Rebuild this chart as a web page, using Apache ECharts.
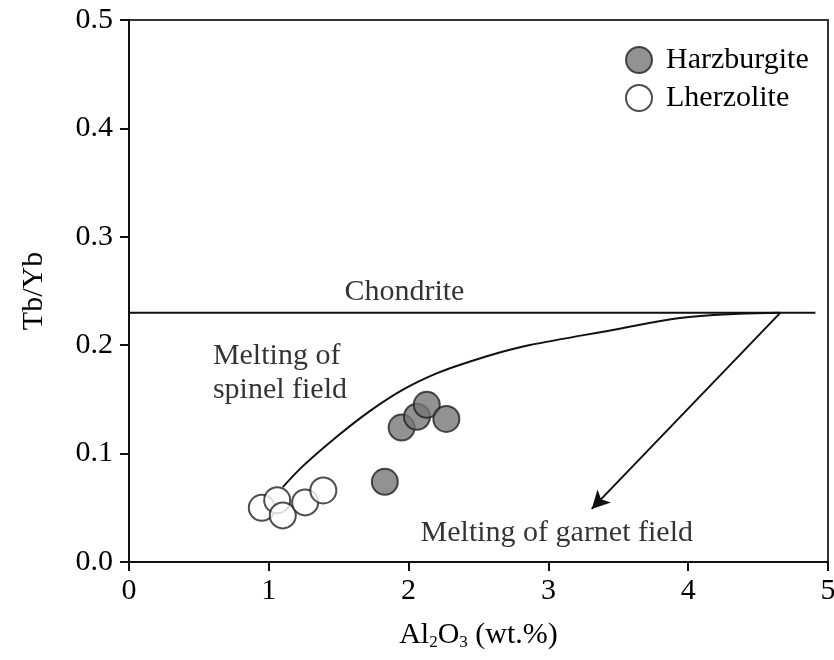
<!DOCTYPE html>
<html>
<head>
<meta charset="utf-8">
<script src="https://cdn.jsdelivr.net/npm/echarts@6/dist/echarts.min.js"></script>
<style>
html, body { margin: 0; padding: 0; background: #fff; }
#chart { width: 834px; height: 660px; }
</style>
</head>
<body>
<div id="chart"></div>
<script>
// sample points [Al2O3, Tb/Yb]
const harzburgite = [
    [1.95, 0.124],
    [2.06, 0.134],
    [2.13, 0.145],
    [2.27, 0.132],
    [1.83, 0.074],
];
const lherzolite = [
    [0.95, 0.050],
    [1.06, 0.057],
    [1.10, 0.043],
    [1.26, 0.055],
    [1.39, 0.066],
];
// reference lines
const chondriteLine = [[0, 0.23], [4.91, 0.23]];
const spinelCurve = [
    [1.10, 0.069],
    [1.24, 0.088],
    [1.49, 0.116],
    [1.72, 0.139],
    [1.96, 0.159],
    [2.20, 0.174],
    [2.44, 0.185],
    [2.67, 0.194],
    [2.86, 0.200],
    [3.46, 0.214],
    [3.94, 0.225],
    [4.36, 0.229],
    [4.66, 0.230],
];
const garnetArrow = [[4.66, 0.23], [3.31, 0.049]];
// annotations [x, y, text]
const notes = [
    [1.97, 0.249, 'Chondrite'],
    [3.06, 0.027, 'Melting of garnet field'],
];
const spinelNote = [0.6, 0.174, 'Melting of\nspinel field'];
const xTicks = [0, 1, 2, 3, 4, 5];
const yTicks = [0.0, 0.1, 0.2, 0.3, 0.4, 0.5];

const font = 'Liberation Serif';
const txt = '#000';

const option = {
    animation: false,
    textStyle: { fontFamily: font },
    grid: {
        left: 129,
        right: 6,
        top: 20,
        bottom: 98,
        outerBoundsMode: 'none',
        show: true,
        borderColor: '#333',
        borderWidth: 2,
    },
    legend: {
        orient: 'vertical',
        left: 620,
        top: 40,
        itemWidth: 26,
        itemHeight: 26,
        itemGap: 8,
        icon: 'circle',
        textStyle: { fontFamily: font, fontSize: 30, color: txt, padding: [0, 0, 0, 9] },
        data: ['Harzburgite', 'Lherzolite'],
    },
    xAxis: {
        type: 'value',
        min: xTicks[0],
        max: xTicks[xTicks.length - 1],
        interval: 1,
        name: 'Al{sub|2}O{sub|3} (wt.%)',
        nameLocation: 'middle',
        nameGap: 58,
        nameTextStyle: {
            fontFamily: font,
            fontSize: 30,
            color: txt,
            rich: {
                sub: { fontFamily: font, fontSize: 17, color: txt, padding: [14, 0, 0, 0] },
            },
        },
        axisLine: { lineStyle: { color: '#111', width: 2 } },
        axisTick: { show: true, length: 9, lineStyle: { color: '#111', width: 2 } },
        axisLabel: { fontFamily: font, fontSize: 30, color: txt, margin: 14, showMaxLabel: true },
        splitLine: { show: false },
    },
    yAxis: {
        type: 'value',
        min: yTicks[0],
        max: yTicks[yTicks.length - 1],
        interval: 0.1,
        name: 'Tb/Yb',
        nameLocation: 'middle',
        nameGap: 80,
        nameTextStyle: { fontFamily: font, fontSize: 30, color: txt },
        axisLine: { lineStyle: { color: '#111', width: 2 } },
        axisTick: { show: true, length: 9, lineStyle: { color: '#111', width: 2 } },
        axisLabel: {
            fontFamily: font,
            fontSize: 30,
            color: txt,
            margin: 16,
            formatter: (v) => v.toFixed(1),
        },
        splitLine: { show: false },
    },
    series: [
        {
            name: 'Chondrite',
            type: 'line',
            data: chondriteLine,
            showSymbol: false,
            lineStyle: { color: '#111', width: 2 },
            silent: true,
            markLine: {
                silent: true,
                symbol: ['none', 'arrow'],
                symbolSize: [14, 18],
                label: { show: false },
                lineStyle: { color: '#111', width: 2, type: 'solid' },
                data: [[{ coord: garnetArrow[0] }, { coord: garnetArrow[1] }]],
            },
        },
        {
            name: 'spinel',
            type: 'line',
            data: spinelCurve,
            smooth: 0.35,
            showSymbol: false,
            lineStyle: { color: '#111', width: 2 },
            silent: true,
        },
        {
            name: 'Harzburgite',
            type: 'scatter',
            data: harzburgite,
            symbol: 'circle',
            symbolSize: 26,
            itemStyle: { color: '#777', borderColor: '#222', borderWidth: 2 },
            z: 5,
        },
        {
            name: 'Lherzolite',
            type: 'scatter',
            data: lherzolite,
            symbol: 'circle',
            symbolSize: 26,
            itemStyle: { color: '#fff', borderColor: '#222', borderWidth: 2 },
            z: 4,
        },
        {
            name: 'notes',
            type: 'scatter',
            data: notes.map((n) => ({ value: [n[0], n[1]], label: { formatter: n[2] } })),
            symbolSize: 0,
            silent: true,
            label: {
                show: true,
                position: 'inside',
                fontFamily: font,
                fontSize: 30,
                color: txt,
            },
        },
        {
            name: 'spinelNote',
            type: 'scatter',
            data: [{ value: [spinelNote[0], spinelNote[1]], label: { formatter: spinelNote[2] } }],
            symbolSize: 0,
            silent: true,
            label: {
                show: true,
                position: 'right',
                distance: 0,
                align: 'left',
                fontFamily: font,
                fontSize: 30,
                lineHeight: 34,
                color: txt,
            },
        },
    ],
};

// 绘制图表
let myChart = echarts.init(document.getElementById('chart'));
myChart.setOption(option);
</script>
</body>
</html>
